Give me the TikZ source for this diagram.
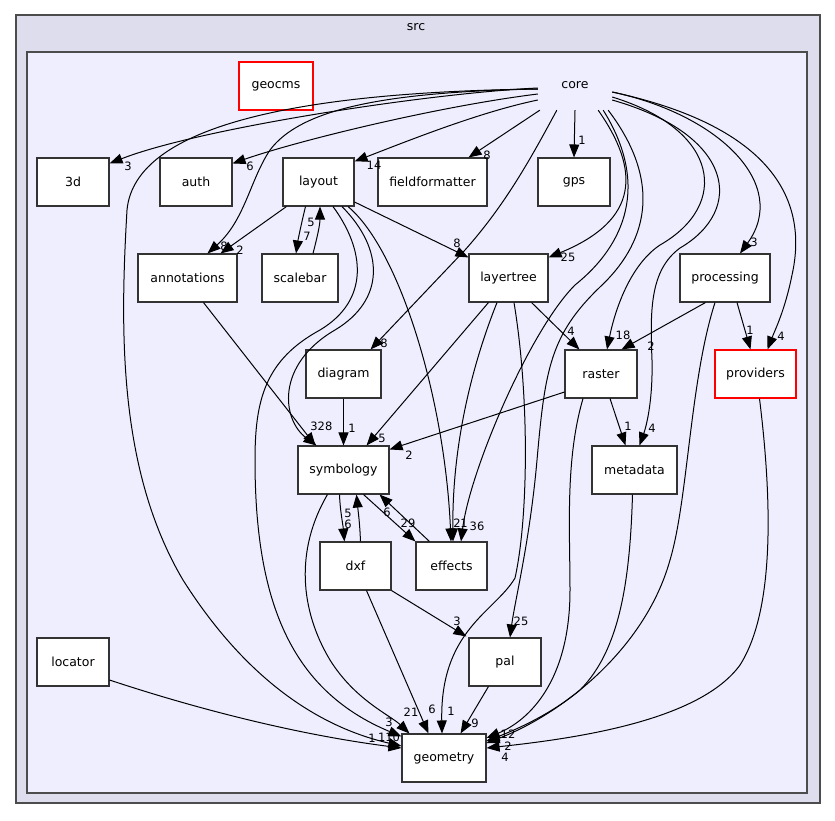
\documentclass[tikz,border=0pt]{standalone}
\usepackage{fontspec}
\setmainfont{DejaVu Sans}
\usepackage{tikz}
\usetikzlibrary{arrows.meta,calc}
\definecolor{clusterout}{HTML}{DDDDEE}
\definecolor{clusterin}{HTML}{EEEEFF}
\definecolor{boxline}{HTML}{333333}
\newcommand{\dirfont}{\fontsize{12.5}{15}\selectfont}
\newcommand{\numfont}{\fontsize{11.5}{13}\selectfont}
\tikzset{
  % directory box
  dirbox/.style={
    draw=boxline,
    fill=white,
    line width=1.1pt,
    minimum width=72pt,
    minimum height=48pt,
    inner sep=0pt,
    font=\dirfont
  },
  % directory with red frame
  reddir/.style={dirbox, draw=red},
  % dependency arrow
  dep/.style={-{Triangle[length=13pt,width=10pt]}, line width=1pt, black},
  % edge count
  num/.style={font=\numfont, inner sep=0pt},
}

\begin{document}
\begin{tikzpicture}[x=1pt,y=-1pt]
  \useasboundingbox (0,0) rectangle (835,820);

  % clusters
  \draw[fill=clusterout, draw=black!70, line width=1.3pt] (16,15) rectangle (820,803);
  \node[font=\dirfont] (src) at (416,27) {src};
  \draw[fill=clusterin, draw=black!70, line width=1.3pt] (27,52) rectangle (807,793);
  \node[font=\dirfont, minimum width=74pt, minimum height=38pt, inner sep=0pt, text depth=12pt] (core) at (575,91) {core};

  % directories
  \node[reddir, minimum width=74pt] (geocms) at (276,86) {geocms};
  \node[dirbox] (threed) at (73,182) {3d};
  \node[dirbox] (auth) at (196,182) {auth};
  \node[dirbox, minimum width=71pt] (layout) at (318.5,182) {layout};
  \node[dirbox, minimum width=109pt] (fieldformatter) at (432.5,182) {fieldformatter};
  \node[dirbox] (gps) at (574,182) {gps};
  \node[dirbox, minimum width=99pt] (annotations) at (187.5,278) {annotations};
  \node[dirbox, minimum width=76pt] (scalebar) at (300,278) {scalebar};
  \node[dirbox, minimum width=79pt] (layertree) at (508.5,278) {layertree};
  \node[dirbox, minimum width=90pt] (processing) at (725,278) {processing};
  \node[dirbox, minimum width=75pt] (diagram) at (343.5,374) {diagram};
  \node[dirbox] (raster) at (601,374) {raster};
  \node[reddir, minimum width=81pt] (providers) at (755.5,374) {providers};
  \node[dirbox, minimum width=91pt] (symbology) at (343.5,470) {symbology};
  \node[dirbox, minimum width=85pt] (metadata) at (634.5,470) {metadata};
  \node[dirbox, minimum width=71pt] (dxf) at (355.5,566) {dxf};
  \node[dirbox, minimum width=71pt] (effects) at (451.5,566) {effects};
  \node[dirbox] (pal) at (505,662) {pal};
  \node[dirbox, minimum width=84pt] (geometry) at (444,758) {geometry};
  \node[dirbox] (locator) at (73,662) {locator};

  % core -> ...
  \draw[dep] ($(core.west)+(0,-3)$) .. controls (430,93) and (200,128) .. ($(threed.north east)+(0,6)$);
  \node[num] (n1) at (128,166) {3};
  \draw[dep] ($(core.west)+(0,3)$) .. controls (440,106) and (300,140) .. ($(auth.north east)+(0,6)$);
  \node[num] (n2) at (250,166) {6};
  \draw[dep] ($(core.west)+(0,9)$) .. controls (480,112) and (410,140) .. ($(layout.north east)+(0,4)$);
  \node[num] (n3) at (374,165) {14};
  \draw[dep] ($(core.south west)+(2,0)$) -- ($(fieldformatter.north east)+(-19,0)$);
  \node[num] (n4) at (487,155) {8};
  \draw[dep] (core.south) -- (gps.north);
  \node[num] (n5) at (582,140) {1};
  \draw[dep] ($(core.west)+(0,-2)$) .. controls (380,92) and (300,110) .. (270,150)
    .. controls (250,180) and (245,220) .. ($(annotations.north)+(20,0)$);
  \node[num] (n6) at (224,246) {8};
  \draw[dep] ($(core.west)+(0,-2)$) .. controls (300,92) and (135,125) .. (127,210)
    .. controls (120,330) and (118,470) .. (183,580)
    .. controls (240,670) and (310,725) .. ($(geometry.west)+(0,-12)$);
  \node[num] (n7) at (389,737) {110};
  \draw[dep] ($(core.south west)+(19,0)$) .. controls (530,160) and (505,205) .. (465,250)
    -- ($(diagram.north east)+(-11,0)$);
  \node[num] (n8) at (384,343) {8};
  \draw[dep] ($(core.south east)+(-14,0)$) .. controls (640,170) and (640,220) .. ($(layertree.north east)+(0,4)$);
  \node[num] (n9) at (568,257) {25};
  \draw[dep] ($(core.south east)+(-9,0)$) .. controls (650,185) and (625,245) .. (575,285)
    .. controls (530,330) and (470,470) .. ($(effects.north)+(9.5,0)$);
  \node[num] (n10) at (477,526) {36};
  \draw[dep] ($(core.south east)+(-4,0)$) .. controls (665,185) and (645,245) .. (600,287)
    .. controls (550,335) and (545,370) .. (537,460)
    .. controls (530,540) and (515,600) .. ($(pal.north)+(5,0)$);
  \node[num] (n11) at (521,621) {25};
  \draw[dep] ($(core.east)+(0,6)$) .. controls (720,130) and (730,205) .. (660,245)
    .. controls (630,265) and (615,310) .. ($(raster.north)+(6,0)$);
  \node[num] (n12) at (623,335) {18};
  \draw[dep] ($(core.east)+(0,9)$) .. controls (735,135) and (745,210) .. (680,248)
    .. controls (650,270) and (650,310) .. (652,360)
    .. controls (653,405) and (645,430) .. ($(metadata.north)+(5,0)$);
  \node[num] (n13) at (652,428) {4};
  \draw[dep] ($(core.east)+(0,1)$) .. controls (720,115) and (790,185) .. ($(processing.north)+(15,0)$);
  \node[num] (n14) at (754,242) {3};
  \draw[dep] ($(core.east)+(0,1)$) .. controls (765,125) and (810,195) .. (792,275)
    .. controls (785,310) and (775,330) .. ($(providers.north)+(12,0)$);
  \node[num] (n15) at (781,336) {4};

  % layout -> ...
  \draw[dep] ($(layout.south west)+(4,0)$) -- ($(annotations.north)+(33,0)$);
  \node[num] (n16) at (240,250) {2};
  \draw[dep] ($(layout.south)+(-13,0)$) .. controls (301,225) and (298,240) .. ($(scalebar.north)+(-4,0)$);
  \node[num] (n17) at (307,236) {7};
  \draw[dep] ($(scalebar.north)+(13,0)$) .. controls (317,238) and (320,225) .. ($(layout.south)+(1.5,0)$);
  \node[num] (n18) at (311,222) {5};
  \draw[dep] ($(layout.east)+(0,20)$) -- ($(layertree.north west)+(0,4)$);
  \node[num] (n19) at (457,243) {8};
  \draw[dep] ($(layout.south)+(23.5,0)$) .. controls (385,250) and (385,300) .. (335,330)
    .. controls (275,365) and (282,420) .. ($(symbology.north west)+(19,0)$);
  \node[num] (n20) at (325,426) {28};
  \draw[dep] ($(layout.south)+(14.5,0)$) .. controls (365,250) and (370,300) .. (320,330)
    .. controls (265,360) and (255,400) .. (255,460)
    .. controls (255,600) and (290,690) .. ($(geometry.north west)+(0,3)$);
  \node[num] (n21) at (389,722) {3};
  \draw[dep] ($(layout.south)+(29.5,0)$) .. controls (400,250) and (445,400) .. ($(effects.north)+(-0.5,0)$);
  \node[num] (n22) at (457,523) {2};

  % middle layer
  \draw[dep] ($(annotations.south)+(16,0)$) -- ($(symbology.north west)+(18,0)$);
  \node[num] (n23) at (314,426) {3};
  \draw[dep] (diagram.south) -- (symbology.north);
  \node[num] (n24) at (352,428) {1};
  \draw[dep] ($(layertree.south west)+(20,0)$) -- ($(symbology.north east)+(-23,0)$);
  \node[num] (n25) at (382,438) {5};
  \draw[dep] ($(raster.west)+(0,18)$) -- ($(symbology.north east)+(0,4)$);
  \node[num] (n26) at (409,455) {2};
  \draw[dep] ($(layertree.south east)+(-17,0)$) -- ($(raster.north west)+(15,0)$);
  \node[num] (n27) at (571,331) {4};
  \draw[dep] ($(layertree.south)+(-11.5,0)$) .. controls (470,370) and (452,450) .. ($(effects.north)+(1.5,0)$);
  \node[num] (n28) at (464,523) {1};
  \draw[dep] ($(layertree.south)+(5.5,0)$) .. controls (530,400) and (528,520) .. (515,578)
    .. controls (495,612) and (440,630) .. ($(geometry.north)+(-2,0)$);
  \node[num] (n29) at (451,711) {1};
  \draw[dep] ($(processing.south west)+(26,0)$) -- ($(raster.north east)+(-16,0)$);
  \node[num] (n30) at (651,346) {2};
  \draw[dep] ($(processing.south)+(12,0)$) -- ($(providers.north)+(-5,0)$);
  \node[num] (n31) at (750,330) {1};
  \draw[dep] ($(raster.south)+(9,0)$) -- ($(metadata.north)+(-9,0)$);
  \node[num] (n32) at (628,426) {1};

  % into geometry from the right
  \draw[dep] ($(raster.south)+(-18,0)$) .. controls (565,460) and (570,530) .. (570,590)
    .. controls (570,680) and (530,720) .. ($(geometry.east)+(0,-20)$);
  \node[num] (n33) at (508,734) {12};
  \draw[dep] ($(metadata.south)+(-2,0)$) .. controls (630,580) and (620,650) .. (580,690)
    .. controls (550,715) and (515,730) .. ($(geometry.east)+(0,-17)$);
  \node[num] (n34) at (497,745) {1};
  \draw[dep] ($(processing.south)+(-10,0)$) .. controls (690,380) and (688,500) .. (670,560)
    .. controls (645,650) and (560,715) .. ($(geometry.east)+(0,-15)$);
  \node[num] (n35) at (508,746) {2};
  \draw[dep] ($(providers.south)+(4,0)$) .. controls (772,500) and (775,610) .. (740,665)
    .. controls (700,720) and (580,738) .. ($(geometry.east)+(0,-10)$);
  \node[num] (n36) at (505,757) {4};

  % symbology, dxf, effects, pal
  \draw[dep] ($(symbology.south east)+(-26,0)$) -- (effects.north west);
  \node[num] (n37) at (408,523) {29};
  \draw[dep] ($(effects.north west)+(14,0)$) -- ($(symbology.south east)+(-10,0)$);
  \node[num] (n38) at (387,512) {6};
  \draw[dep] ($(symbology.south)+(-4,0)$) .. controls (340,510) and (343,525) .. ($(dxf.north west)+(25,0)$);
  \node[num] (n39) at (348,524) {6};
  \draw[dep] ($(dxf.north west)+(41,0)$) .. controls (360,525) and (358,510) .. ($(symbology.south)+(13,0)$);
  \node[num] (n40) at (348,513) {5};
  \draw[dep] ($(symbology.south west)+(30,0)$) .. controls (295,550) and (300,610) .. (330,660)
    .. controls (355,700) and (390,715) .. ($(geometry.north west)+(8,0)$);
  \node[num] (n41) at (411,712) {21};
  \draw[dep] ($(dxf.south)+(11,0)$) -- ($(geometry.north west)+(27,0)$);
  \node[num] (n42) at (432,709) {6};
  \draw[dep] (dxf.south east) -- ($(pal.north west)+(-2,-1)$);
  \node[num] (n43) at (457,621) {3};
  \draw[dep] ($(pal.south west)+(20,0)$) -- ($(geometry.north east)+(-26,0)$);
  \node[num] (n44) at (475,723) {9};
  \draw[dep] ($(locator.east)+(0,18)$) .. controls (200,710) and (300,735) .. ($(geometry.west)+(0,-10)$);
  \node[num] (n45) at (372,738) {1};
\end{tikzpicture}
\end{document}
